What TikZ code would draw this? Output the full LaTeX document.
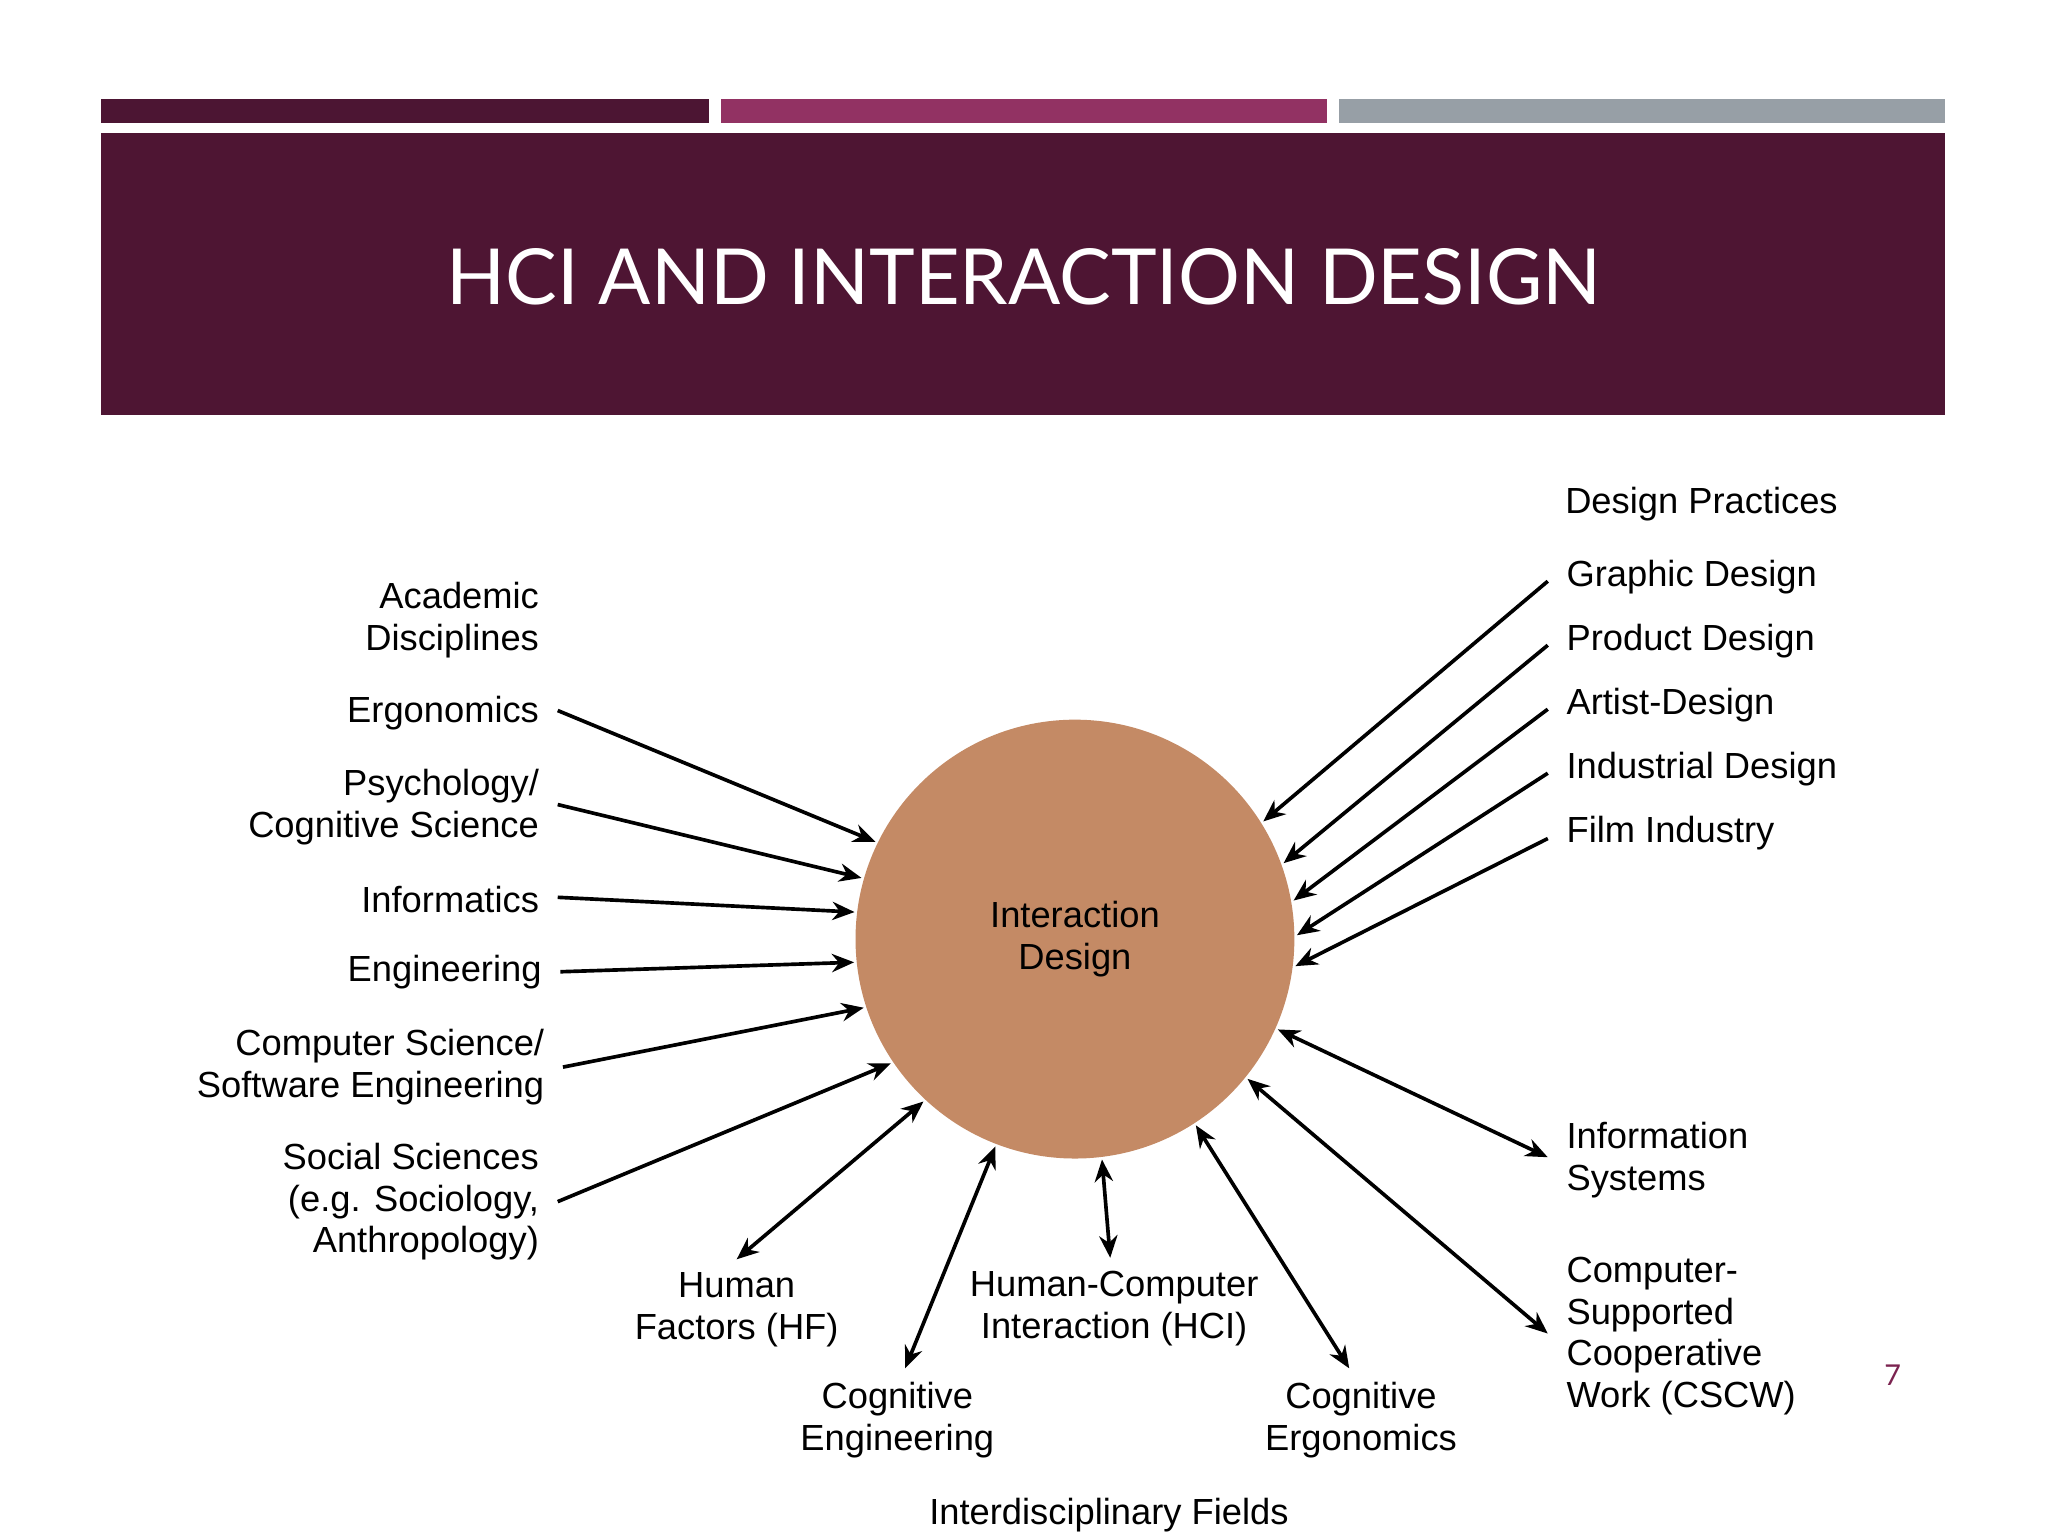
\documentclass[tikz,border=0pt]{standalone}
\usepackage{fontspec}
\setmainfont{Liberation Sans}
\newfontfamily\titlefont{Lato}
\usetikzlibrary{arrows.meta}
\definecolor{barA}{HTML}{4C1533}
\definecolor{barB}{HTML}{923263}
\definecolor{barC}{HTML}{979FA6}
\definecolor{headbg}{HTML}{4E1533}
\definecolor{circfill}{HTML}{C48A65}
\definecolor{pgnum}{HTML}{7B2350}
\newcommand{\lblfont}{\fontsize{13.9}{16}\selectfont}
\tikzset{
  lbl/.style={font=\lblfont, inner xsep=7pt, inner ysep=3.5pt},
  lblL/.style={lbl, align=right, anchor=east},
  lblR/.style={lbl, align=left, anchor=west},
  lblC/.style={lbl, align=center},
  circ/.style={circle, fill=circfill, minimum size=168pt, inner sep=0pt, outer sep=1pt, font=\lblfont, align=center},
  arr/.style={line width=1.4pt, -{Stealth[length=8.5pt,width=7pt]}},
  darr/.style={line width=1.4pt, {Stealth[length=8.5pt,width=7pt]}-{Stealth[length=8.5pt,width=7pt]}},
  titletext/.style={font=\titlefont\fontsize{29.6}{32}\selectfont, text=white, inner sep=0pt}
}
\begin{document}
\begin{tikzpicture}[x=0.5pt,y=-0.5pt]
\useasboundingbox[fill=white] (0,0) rectangle (1568,1176);
% header bars
\fill[barA] (77,76) rectangle (543,94);
\fill[barB] (552,76) rectangle (1016,94);
\fill[barC] (1025,76) rectangle (1489,94);
\fill[headbg] (77,102) rectangle (1489,318);
\node[titletext] (title) at (784,212) {HCI AND INTERACTION DESIGN};

% central circle
\node[circ] (c) at (823,719) {Interaction\\Design};

% left labels
\node[lblL] (acad) at (427,475) {Academic\\Disciplines};
\node[lblL] (ergo) at (427,546) {Ergonomics};
\node[lblL] (psych) at (427,618) {Psychology/\\Cognitive Science};
\node[lblL] (info) at (427,689) {Informatics};
\node[lblL] (eng) at (429,744) {Engineering};
\node[lblL] (cs) at (431,817) {Computer Science/\\Software Engineering};
\node[lblL] (soc) at (427,920) {Social Sciences\\(e.g. Sociology,\\Anthropology)};

\draw[arr] ([yshift=1pt]ergo.east) -- (c.154);
\draw[arr] ([yshift=1pt]psych.east) -- (c.164);
\draw[arr] ([yshift=1pt]info.east) -- (c.173);
\draw[arr] (eng.east) -- (c.186);
\draw[arr] (cs.east) -- (c.198);
\draw[arr] (soc.east) -- (c.214);

% bottom labels
\node[lblC] (hf) at (564,1003) {Human\\Factors (HF)};
\node[lblC] (ceng) at (687,1087) {Cognitive\\Engineering};
\node[lblC] (hci) at (853,1002) {Human-Computer\\Interaction (HCI)};
\node[lblC] (cerg) at (1042,1087) {Cognitive\\Ergonomics};
\node[lblC] (idf) at (849,1160) {Interdisciplinary Fields};

\draw[darr] ([yshift=1.5pt]hf.north) -- (c.227);
\draw[darr] ([xshift=3pt,yshift=1.5pt]ceng.north) -- (c.249);
\draw[darr] ([xshift=-1.5pt,yshift=1.5pt]hci.north) -- (c.277);
\draw[darr] ([xshift=-4.5pt,yshift=1.5pt]cerg.north) -- (c.303);

% right labels
\node[lblR] (is) at (1185,888) {Information\\Systems};
\node[lblR] (cscw) at (1185,1023) {Computer-\\Supported\\Cooperative\\Work (CSCW)};

\draw[darr] ([yshift=1pt]is.west) -- (c.336);
\draw[darr] ([yshift=1pt]cscw.west) -- (c.321);

% design practices
\node[lblR] (dp) at (1184,386) {Design Practices};
\node[lblR] (gd) at (1185,442) {Graphic Design};
\node[lblR] (pd) at (1185,491) {Product Design};
\node[lblR] (ad) at (1185,540) {Artist-Design};
\node[lblR] (idd) at (1185,589) {Industrial Design};
\node[lblR] (fi) at (1185,638) {Film Industry};

\draw[arr] ([yshift=-1.5pt]gd.west) -- (c.32);
\draw[arr] ([yshift=-1.5pt]pd.west) -- (c.20);
\draw[arr] ([yshift=-1.5pt]ad.west) -- (c.10);
\draw[arr] ([yshift=-1.5pt]idd.west) -- (c.1);
\draw[arr] ([yshift=-2pt]fi.west) -- (c.353);

% page number
\node[font=\titlefont\fontsize{11}{13}\selectfont, text=pgnum, inner sep=0pt] (pg) at (1449,1053) {7};
\end{tikzpicture}
\end{document}
